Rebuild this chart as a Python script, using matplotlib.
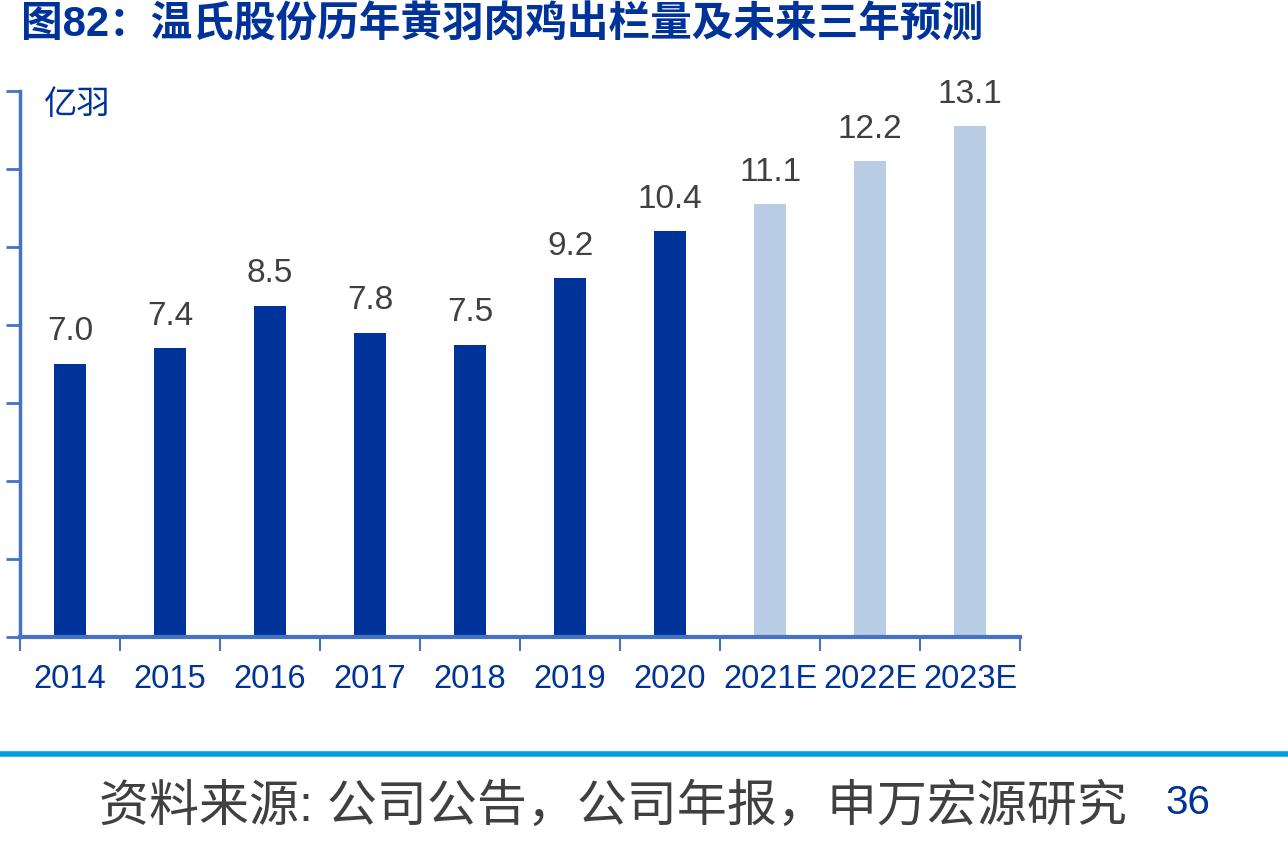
import matplotlib.pyplot as plt
import numpy as np
from matplotlib.lines import Line2D

# ── Data ──────────────────────────────────────────────────────────────────────
years = ['2014', '2015', '2016', '2017', '2018', '2019', '2020',
         '2021E', '2022E', '2023E']
volume = [7.0, 7.4, 8.5, 7.8, 7.5, 9.2, 10.4, 11.1, 12.2, 13.1]
is_forecast = [False] * 7 + [True] * 3

TITLE = '图82：温氏股份历年黄羽肉鸡出栏量及未来三年预测'
UNIT = '亿羽'
SOURCE = '资料来源: 公司公告，公司年报，申万宏源研究'
PAGE = '36'

# ── Style ─────────────────────────────────────────────────────────────────────
DARK = '#003399'
LIGHT = '#B8CCE4'
AXIS = '#4472C4'
GREY = '#404040'
FONTS = ['Liberation Sans', 'Noto Sans CJK SC', 'DejaVu Sans']
plt.rcParams['font.family'] = FONTS

fig = plt.figure(figsize=(12.88, 8.45), dpi=100)
ax = fig.add_axes([0.0155, 0.245, 0.7765, 0.646])

x = np.arange(len(years))
colors = [LIGHT if f else DARK for f in is_forecast]
ax.bar(x, volume, width=0.32, color=colors, zorder=2)

for xi, v in zip(x, volume):
    ax.text(xi, v + 0.45, f'{v:.1f}', ha='center', va='bottom',
            fontsize=24, color=GREY)

ax.set_xlim(-0.5, len(years) - 0.5)
ax.set_ylim(0, 14)
ax.set_yticks(np.arange(0, 15, 2))
ax.set_yticklabels([])
ax.tick_params(axis='y', direction='out', length=10, width=2, color=AXIS)

# category separators on x axis
ax.set_xticks(np.arange(-0.5, len(years), 1.0))
ax.set_xticklabels([])
ax.tick_params(axis='x', direction='out', length=10, width=1.5, color=AXIS)
for xi, lab in zip(x, years):
    ax.text(xi, -1.06, lab, ha='center', va='center', fontsize=23.5,
            color=DARK, transform=ax.transData)

for side in ('top', 'right'):
    ax.spines[side].set_visible(False)
ax.spines['left'].set_color(AXIS)
ax.spines['left'].set_linewidth(2.5)
ax.spines['bottom'].set_color(AXIS)
ax.spines['bottom'].set_linewidth(3)

ax.text(0.024, 0.975, UNIT, transform=ax.transAxes, fontsize=24,
        color=DARK, ha='left', va='center')

fig.text(0.016, 0.970, TITLE, fontsize=30, fontweight='bold', color=DARK,
         ha='left', va='center')

fig.add_artist(Line2D([0, 1], [1 - 755 / 845] * 2, transform=fig.transFigure,
                      color='#00A0DF', linewidth=4))

fig.text(0.077, 0.045, SOURCE, fontsize=36, color=GREY,
         ha='left', va='center')
fig.text(0.922, 0.050, PAGE, fontsize=29, color=DARK,
         ha='center', va='center')

fig.savefig('out.png', dpi=100)
